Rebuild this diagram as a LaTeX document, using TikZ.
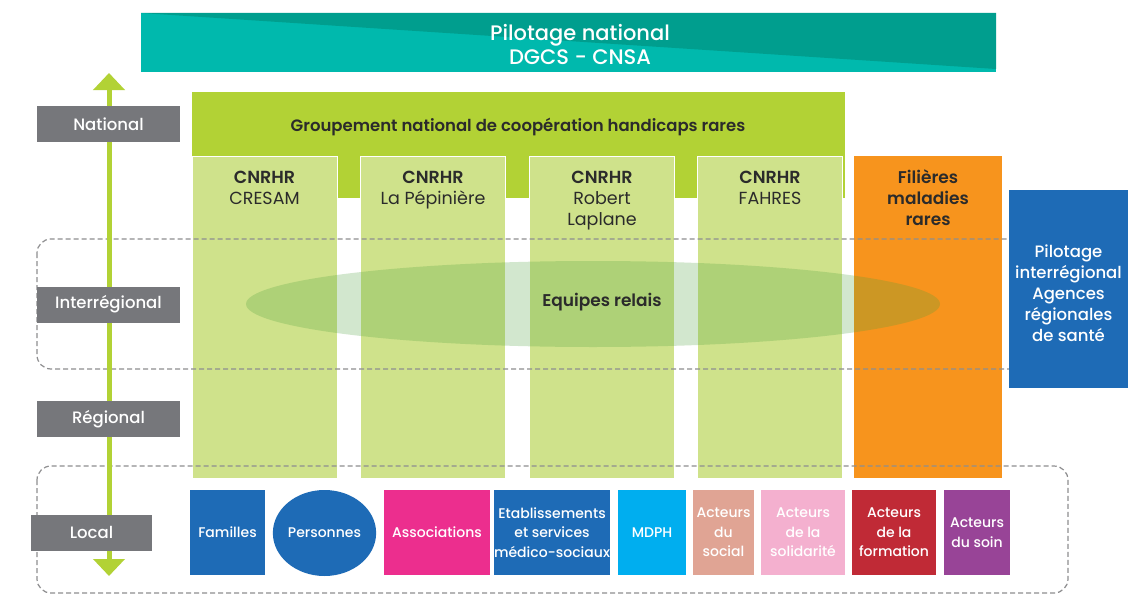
\documentclass[tikz,border=0pt]{standalone}
\usepackage{fontspec}
\setmainfont{Poppins}[UprightFont=* Medium,BoldFont=* SemiBold]
\newfontfamily\legere{Poppins}
\usetikzlibrary{arrows.meta,positioning,shapes.geometric}
\definecolor{tealA}{HTML}{00B9AD}
\definecolor{tealB}{HTML}{009E8E}
\definecolor{vert}{HTML}{B2D235}
\definecolor{vertclair}{HTML}{CFE28B}
\definecolor{gris}{HTML}{76777B}
\definecolor{pointgris}{HTML}{8E8E90}
\definecolor{texte}{HTML}{2B2B2B}
\definecolor{orangeF}{HTML}{F7941D}
\definecolor{bleu}{HTML}{1E6BB6}
\definecolor{relais}{HTML}{4FA03C}
\definecolor{magenta}{HTML}{EC2E8E}
\definecolor{cyan}{HTML}{00AEEF}
\definecolor{saumon}{HTML}{E0A494}
\definecolor{rose}{HTML}{F4B0CF}
\definecolor{rouge}{HTML}{C02A36}
\definecolor{violet}{HTML}{984497}
\tikzset{
  niveau/.style={fill=gris,text=white,minimum height=36pt,inner sep=0pt,font=\fontsize{16.5}{19}\selectfont},
  colonne/.style={fill=vertclair,draw=white,line width=1pt,minimum width=145pt,minimum height=322pt,inner sep=0pt},
  titre/.style={align=center,text=texte,inner sep=0pt,font=\fontsize{17.5}{21}\selectfont},
  acteur/.style={text=white,align=center,minimum height=85pt,inner sep=0pt,font=\fontsize{14}{19.5}\selectfont},
  pointille/.style={draw=pointgris,dash pattern=on 5pt off 3pt,line width=1.2pt,rounded corners=14pt}
}
\begin{document}
\begin{tikzpicture}[x=1pt,y=-1pt]
\useasboundingbox[fill=white] (0,0) rectangle (1138,594);
% bandeau national
\fill[tealA] (141,13) rectangle (996,72);
\fill[tealB] (141,13) -- (996,13) -- (996,69) -- cycle;
\node[text=white,align=center,font=\fontsize{21}{24}\selectfont] (pilote) at (580,44) {Pilotage national\\DGCS - CNSA};
% groupement et CNRHR
\fill[vert] (192,92) rectangle (845,198);
\node[text=texte,font=\bfseries\fontsize{16.5}{19}\selectfont] (gnc) at (518,127) {Groupement national de coopération handicaps rares};
\node[colonne] (c1) at (264.5,317) {};
\node[colonne] (c2) at (433,317) {};
\node[colonne] (c3) at (602,317) {};
\node[colonne] (c4) at (770,317) {};
\node[colonne,fill=orangeF,draw=none,minimum width=148pt] (fil) at (928,317) {};
\fill[relais,opacity=0.25] (593,304) ellipse (347 and 43); % equipes relais
\node[titre,below=15pt of c1.north] (t1) {\textbf{CNRHR}\\\legere CRESAM};
\node[titre,below=15pt of c2.north] (t2) {\textbf{CNRHR}\\\legere La Pépinière};
\node[titre,below=15pt of c3.north] (t3) {\textbf{CNRHR}\\\legere Robert\\\legere Laplane};
\node[titre,below=15pt of c4.north] (t4) {\textbf{CNRHR}\\\legere FAHRES};
\node[titre,font=\bfseries\fontsize{17}{21}\selectfont,below=14pt of fil.north] (tf) {Filières\\maladies\\rares};
\node[titre,font=\bfseries\fontsize{17}{21}\selectfont] (er) at (602,302) {Equipes relais};
% niveaux en pointilles
\draw[pointille] (37,239) rectangle (1068,369);
\draw[pointille] (37,466) rectangle (1068,593);
\node[fill=bleu,minimum width=119pt,minimum height=198pt,inner sep=0pt] (ars) at (1068.5,289) {};
\node[text=white,align=center,inner sep=0pt,font=\fontsize{16.5}{21}\selectfont] (arst) at ([yshift=-4.5pt]ars.center) {Pilotage\\interrégional\\Agences\\régionales\\de santé};
% axe
\coordinate (haut) at (109,73);
\coordinate (bas) at (109,576);
\draw[vert,line width=5pt,{Triangle[width=31pt,length=17pt]}-{Triangle[width=31pt,length=17pt]}] (haut) -- (bas);
\node[niveau,minimum width=143pt] (nat) at (108.5,124) {National};
\node[niveau,minimum width=143pt] (inter) at (108.5,304.5) {Interrégional};
\node[niveau,minimum width=143pt] (reg) at (108.5,419) {Régional};
\node[niveau,minimum width=121pt] (loc) at (91.5,532.5) {Local};
% acteurs locaux
\node[acteur,fill=bleu,minimum width=75pt] (fam) at (227.5,532.5) {Familles};
\node[acteur,fill=bleu,ellipse,minimum width=103pt,minimum height=86pt] (pers) at (324.5,533) {Personnes};
\node[acteur,fill=magenta,minimum width=106pt] (asso) at (437,532.5) {Associations};
\node[acteur,fill=bleu,minimum width=114pt] (esms) at (552,532.5) {Etablissements\\et services\\médico-sociaux};
\node[acteur,fill=cyan,minimum width=68pt] (mdph) at (652,532.5) {MDPH};
\node[acteur,fill=saumon,minimum width=61pt] (soc) at (723.5,532.5) {Acteurs\\du\\social};
\node[acteur,fill=rose,minimum width=84pt] (sol) at (803,532.5) {Acteurs\\de la\\solidarité};
\node[acteur,fill=rouge,minimum width=84pt] (form) at (894,532.5) {Acteurs\\de la\\formation};
\node[acteur,fill=violet,minimum width=66pt] (soin) at (977,532.5) {Acteurs\\du soin};
\end{tikzpicture}
\end{document}
